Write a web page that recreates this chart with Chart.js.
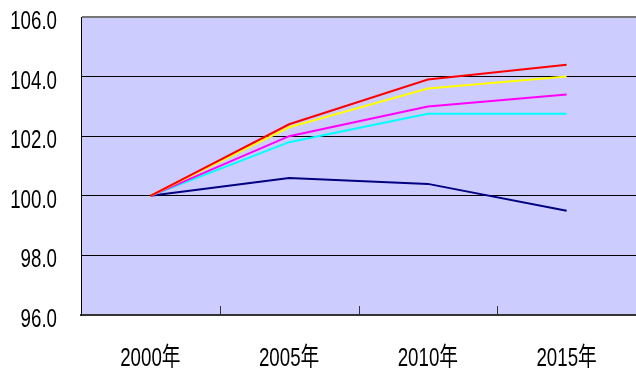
<!DOCTYPE html>
<html>
<head>
<meta charset="utf-8">
<script src="https://cdn.jsdelivr.net/npm/chart.js@4"></script>
<style>
  html, body { margin: 0; padding: 0; background: #fff; overflow: hidden; }
  #wrap { width: 636px; height: 368px; position: relative; }
</style>
</head>
<body>
<div id="wrap"><canvas id="grafic"></canvas></div>
<script>
const years = ['2000年', '2005年', '2010年', '2015年'];
const serieRed = [100.0, 102.4, 103.9, 104.4];
const serieYellow = [100.0, 102.3, 103.6, 104.0];
const serieMagenta = [100.0, 102.0, 103.0, 103.4];
const serieCyan = [100.0, 101.8, 102.75, 102.75];
const serieNavy = [100.0, 100.6, 100.4, 99.5];
const yMin = 96, yMax = 106, yStep = 2;

const FONT = '"Liberation Sans", Arial, "Noto Sans CJK SC", sans-serif';

// lavender plot background
const plotBg = {
    id: 'plotBg',
    beforeDraw(chart) {
        const a = chart.chartArea, c = chart.ctx;
        c.save();
        c.fillStyle = '#CCCCFF';
        c.fillRect(a.left, a.top, a.right - a.left, a.bottom - a.top);
        c.restore();
    }
};

// short tick marks pointing into the plot, between categories
const innerTicks = {
    id: 'innerTicks',
    afterDatasetsDraw(chart) {
        const x = chart.scales.x, y = chart.scales.y, c = chart.ctx;
        c.save();
        c.strokeStyle = '#333';
        c.lineWidth = 1;
        c.beginPath();
        for (let i = 1; i <= years.length; i++) {
            const px = Math.round((x.getPixelForValue(i - 1) + x.getPixelForValue(i)) / 2) + 0.5;
            c.moveTo(px, y.bottom);
            c.lineTo(px, y.bottom - 9);
        }
        c.stroke();
        c.restore();
    }
};

// narrow (condensed) tick labels, like Arial Narrow in the original
const narrowLabels = {
    id: 'narrowLabels',
    afterDraw(chart) {
        const x = chart.scales.x, y = chart.scales.y, c = chart.ctx;
        const squeeze = 0.72;
        c.save();
        c.fillStyle = '#000';
        c.font = '26px ' + FONT;
        c.textBaseline = 'alphabetic';
        for (let v = yMin; v <= yMax; v += yStep) {
            c.save();
            c.translate(57, y.getPixelForValue(v) + 12);
            c.scale(squeeze, 1);
            c.textAlign = 'right';
            c.fillText(v.toFixed(1), 0, 0);
            c.restore();
        }
        years.forEach((lab, i) => {
            c.save();
            c.translate(x.getPixelForValue(i), y.bottom + 51);
            c.scale(squeeze, 1);
            c.textAlign = 'center';
            c.fillText(lab, 0, 0);
            c.restore();
        });
        c.restore();
    }
};

const mk = (label, data, color) => ({
    label, data,
    borderColor: color,
    backgroundColor: color,
    borderWidth: 2,
    pointRadius: 0,
    tension: 0,
    fill: false
});

new Chart(document.getElementById('grafic').getContext('2d'), {
    type: 'line',
    data: {
        labels: years,
        datasets: [
            mk('系列1', serieRed, '#FF0000'),
            mk('系列2', serieYellow, '#FFFF00'),
            mk('系列3', serieMagenta, '#FF00FF'),
            mk('系列4', serieCyan, '#00FFFF'),
            mk('系列5', serieNavy, '#000080')
        ]
    },
    options: {
        responsive: true,
        maintainAspectRatio: false,
        animation: false,
        layout: { padding: { top: 17, right: 0, bottom: 0, left: 0 } },
        plugins: { legend: { display: false }, tooltip: { enabled: false } },
        scales: {
            x: {
                offset: true,
                grid: { display: false, drawTicks: false },
                border: { display: true, color: '#333', width: 2 },
                ticks: { display: false },
                afterFit(s) { s.height = 53; }
            },
            y: {
                min: yMin, max: yMax,
                grid: {
                    drawTicks: false,
                    color: ctx => ctx.tick && ctx.tick.value === yMax ? '#777' : '#000',
                    lineWidth: ctx => ctx.tick && ctx.tick.value === yMax ? 2 : 1
                },
                border: { display: true, color: '#000', width: 1 },
                ticks: { stepSize: yStep, display: false },
                afterFit(s) { s.width = 81; }
            }
        }
    },
    plugins: [plotBg, innerTicks, narrowLabels]
});
</script>
</body>
</html>
